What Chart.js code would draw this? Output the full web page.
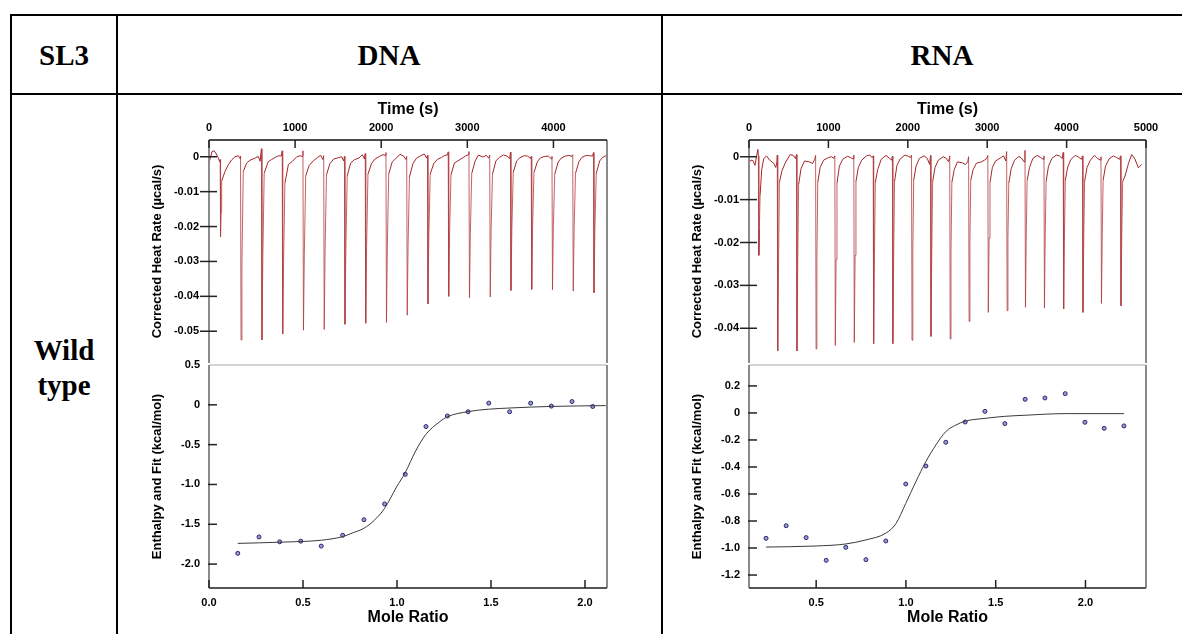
<!DOCTYPE html>
<html>
<head>
<meta charset="utf-8">
<script src="https://cdn.jsdelivr.net/npm/chart.js@4.4.0/dist/chart.umd.min.js"></script>
<style>
  body { margin: 0; background: #fff; width: 1182px; height: 634px; overflow: hidden; position: relative; }
  .rule { position: absolute; background: #000; }
  .cell { position: absolute; font-family: 'Liberation Serif', 'Times New Roman', serif; font-weight: bold; font-size: 29px; line-height: 35px; text-align: center; color: #000; }
  canvas { position: absolute; }
</style>
</head>
<body>
<div class="rule" style="left:10px;top:14px;width:1172px;height:2px"></div>
<div class="rule" style="left:10px;top:93px;width:1172px;height:2px"></div>
<div class="rule" style="left:10px;top:14px;width:2px;height:620px"></div>
<div class="rule" style="left:116px;top:14px;width:2px;height:620px"></div>
<div class="rule" style="left:661px;top:14px;width:2px;height:620px"></div>
<div class="cell" style="left:10px;width:108px;top:38px">SL3</div>
<div class="cell" style="left:289px;width:200px;top:38px">DNA</div>
<div class="cell" style="left:842px;width:200px;top:38px">RNA</div>
<div class="cell" style="left:10px;width:108px;top:333px">Wild<br>type</div>

<canvas id="dnaHeat" width="470" height="275" style="left:150px;top:98px"></canvas>
<canvas id="dnaIso" width="470" height="279" style="left:150px;top:355px"></canvas>
<canvas id="rnaHeat" width="470" height="275" style="left:690px;top:98px"></canvas>
<canvas id="rnaIso" width="470" height="279" style="left:690px;top:355px"></canvas>

<script>
// tick values
const dnaTimeTicks = [0, 1000, 2000, 3000, 4000];
const rnaTimeTicks = [0, 1000, 2000, 3000, 4000, 5000];
const dnaHeatTicks = [0, -0.01, -0.02, -0.03, -0.04, -0.05];
const rnaHeatTicks = [0, -0.01, -0.02, -0.03, -0.04];
const dnaRatioTicks = [0, 0.5, 1.0, 1.5, 2.0];
const rnaRatioTicks = [0.5, 1.0, 1.5, 2.0];
const dnaEnthTicks = [0.5, 0, -0.5, -1.0, -1.5, -2.0];
const rnaEnthTicks = [0.2, 0, -0.2, -0.4, -0.6, -0.8, -1.0, -1.2];

// raw thermogram, DNA: [time s, µcal/s]
const dnaTrace = [
  [0,-0.0017],[15,-0.0005],[35,0.0015],[60,0.0017],[85,0.0008],[110,-0.0004],[124,-0.0015],
  [130,-0.0008],[134,-0.023],[140,-0.016],[147,-0.007],[186,-0.0042],[224,-0.0023],[263,-0.0009],[302,0.0],[341,0.0003],[362,-0.0006],
  [366,0.0002],[372,-0.0525],[382,-0.031],[398,-0.0042],[438,-0.0018],[476,-0.001],[534,-0.0004],[573,0.0001],[593,-0.0013],
  [609,0.0023],[615,-0.0525],[625,-0.029],[641,-0.0047],[688,-0.0014],[727,-0.0008],[773,-0.0001],[811,0.0003],[840,0.0002],
  [850,0.0017],[856,-0.0508],[866,-0.030],[882,-0.0075],[922,-0.0022],[969,-0.0013],[1020,0.0],[1058,0.0003],[1082,0.0001],
  [1091,0.0017],[1097,-0.0497],[1107,-0.028],[1123,-0.0055],[1163,-0.0025],[1210,-0.0012],[1260,-0.0002],[1298,0.0004],[1322,-0.0008],
  [1332,0.0003],[1338,-0.0495],[1348,-0.027],[1364,-0.0052],[1404,-0.002],[1450,-0.0006],[1500,-0.0003],[1540,0.0],[1565,-0.0012],
  [1573,0.0001],[1579,-0.048],[1589,-0.027],[1605,-0.0055],[1645,-0.0018],[1690,-0.0008],[1740,-0.0004],[1780,0.0006],[1805,-0.0006],
  [1814,0.0009],[1820,-0.0477],[1830,-0.026],[1846,-0.005],[1886,-0.002],[1930,-0.0006],[1980,0.0001],[2020,0.0006],[2045,0.0004],
  [2055,0.0012],[2061,-0.0475],[2071,-0.026],[2087,-0.005],[2127,-0.0015],[2170,-0.0005],[2220,0.0007],[2260,0.0002],[2287,-0.0008],
  [2296,0.0001],[2302,-0.0454],[2312,-0.025],[2328,-0.0058],[2368,-0.002],[2410,-0.0004],[2460,0.0003],[2500,0.0008],[2528,-0.0004],
  [2537,0.0004],[2543,-0.0422],[2553,-0.023],[2569,-0.005],[2609,-0.002],[2650,-0.0008],[2700,-0.0002],[2740,0.0004],[2770,0.0005],
  [2778,0.0014],[2784,-0.040],[2794,-0.022],[2810,-0.0052],[2850,-0.0018],[2890,-0.0012],[2940,-0.0004],[2980,0.0002],[3010,0.0006],
  [3019,0.0015],[3025,-0.0404],[3035,-0.022],[3051,-0.0048],[3091,-0.0012],[3130,0.0005],[3180,-0.0001],[3220,0.0004],[3250,-0.0004],
  [3260,0.0005],[3266,-0.0402],[3276,-0.021],[3292,-0.005],[3332,-0.0012],[3370,-0.0002],[3420,0.0005],[3460,0.0002],[3492,-0.0006],
  [3501,0.0013],[3507,-0.0383],[3517,-0.021],[3533,-0.0045],[3573,-0.0012],[3610,-0.0003],[3660,0.0003],[3700,0.0002],[3733,-0.0005],
  [3742,0.0001],[3748,-0.038],[3758,-0.020],[3774,-0.0045],[3814,-0.0014],[3850,-0.0003],[3900,0.0001],[3940,0.0002],[3975,-0.0006],
  [3983,0.0001],[3989,-0.0381],[3999,-0.020],[4015,-0.005],[4055,-0.0015],[4090,-0.0004],[4140,0.0002],[4180,0.0004],[4215,0.0001],
  [4224,0.0006],[4230,-0.0385],[4240,-0.021],[4256,-0.0048],[4296,-0.0014],[4330,-0.0002],[4380,0.0004],[4420,0.0003],[4455,0.0002],
  [4465,0.0012],[4471,-0.039],[4481,-0.021],[4497,-0.0048],[4537,-0.0012],[4570,-0.0002],[4600,0.0002],[4622,0.0003]
];

// raw thermogram, RNA: [time s, µcal/s]
const rnaTrace = [
  [0,-0.0014],[25,-0.0008],[50,-0.0009],[75,-0.002],[100,0.0006],[112,0.0017],[118,0.0002],
  [124,-0.023],[130,-0.017],[140,-0.009],[160,-0.003],[185,-0.0005],[220,0.0002],[260,-0.0008],[310,-0.0015],[337,-0.0025],[352,-0.0012],
  [356,0.0004],[362,-0.0453],[372,-0.025],[383,-0.006],[413,-0.0034],[455,-0.0015],[518,0.0005],[558,0.0003],[585,-0.0004],
  [598,0.0005],[604,-0.0453],[614,-0.024],[625,-0.0065],[655,-0.0028],[700,-0.001],[760,-0.0012],[800,-0.0016],[828,-0.0006],
  [839,0.0003],[845,-0.0448],[855,-0.024],[866,-0.006],[896,-0.0025],[940,-0.0008],[1000,-0.0002],[1040,0.0],[1070,-0.0004],
  [1081,0.0002],[1087,-0.044],[1097,-0.024],[1108,-0.0062],[1138,-0.0022],[1180,-0.0006],[1240,0.0001],[1280,-0.0002],[1310,-0.0005],
  [1320,0.0004],[1326,-0.0433],[1336,-0.023],[1347,-0.0058],[1377,-0.0025],[1420,-0.0008],[1480,0.0002],[1520,0.0004],[1550,-0.0002],
  [1564,0.0002],[1570,-0.0436],[1580,-0.023],[1591,-0.006],[1621,-0.003],[1665,-0.0006],[1725,0.0003],[1765,-0.0003],[1795,-0.0008],
  [1806,0.0001],[1812,-0.0436],[1822,-0.023],[1833,-0.0058],[1863,-0.002],[1905,-0.0005],[1965,0.0004],[2005,0.0001],[2035,-0.0002],
  [2047,0.0004],[2053,-0.0428],[2063,-0.022],[2074,-0.0055],[2104,-0.0022],[2145,-0.0004],[2205,0.0002],[2245,-0.0004],[2275,-0.0018],
  [2286,0.0003],[2292,-0.0419],[2302,-0.022],[2313,-0.0058],[2343,-0.0025],[2385,-0.0008],[2445,0.0],[2485,-0.0004],[2515,-0.0012],
  [2528,0.0002],[2534,-0.0425],[2544,-0.022],[2555,-0.006],[2585,-0.003],[2625,-0.0012],[2685,-0.0014],[2725,-0.0018],[2755,-0.0012],
  [2766,0.0],[2772,-0.0384],[2782,-0.020],[2793,-0.0055],[2823,-0.003],[2865,-0.0015],[2925,-0.0012],[2965,-0.0008],[2995,-0.0004],
  [3008,0.0003],[3014,-0.0363],[3024,-0.019],[3035,-0.006],[3065,-0.0025],[3105,-0.001],[3165,-0.0003],[3205,0.0002],[3235,-0.001],
  [3245,0.0012],[3251,-0.0359],[3261,-0.019],[3272,-0.0062],[3302,-0.0028],[3345,-0.0008],[3400,0.0001],[3440,-0.0005],[3465,-0.0012],
  [3476,0.0015],[3482,-0.0351],[3492,-0.018],[3503,-0.0055],[3533,-0.0025],[3575,-0.0004],[3630,0.0003],[3675,-0.0002],[3705,-0.0006],
  [3715,0.0002],[3721,-0.0353],[3731,-0.018],[3742,-0.0058],[3772,-0.0022],[3815,-0.0004],[3870,0.0004],[3910,0.0002],[3945,-0.0004],
  [3957,0.001],[3963,-0.0355],[3973,-0.018],[3984,-0.0055],[4014,-0.0024],[4055,-0.0006],[4110,0.0003],[4150,-0.0001],[4188,-0.0006],
  [4200,0.0002],[4206,-0.0363],[4216,-0.019],[4227,-0.0058],[4257,-0.0025],[4300,-0.0008],[4350,0.0003],[4390,-0.0004],[4425,-0.0008],
  [4433,0.0],[4439,-0.0342],[4449,-0.018],[4460,-0.0055],[4490,-0.0022],[4535,-0.0005],[4590,0.0002],[4630,-0.0002],[4668,-0.0006],
  [4679,0.0002],[4685,-0.0348],[4695,-0.018],[4706,-0.0058],[4736,-0.0045],[4780,-0.0015],[4820,0.0005],[4860,-0.0005],[4904,-0.0026],[4946,-0.0018]
];

// integrated heats, DNA
const dnaRatio = [0.153, 0.266, 0.376, 0.488, 0.597, 0.711, 0.824, 0.934, 1.044, 1.154, 1.268, 1.378, 1.488, 1.599, 1.711, 1.821, 1.931, 2.041];
const dnaEnthalpy = [-1.865, -1.659, -1.72, -1.712, -1.774, -1.638, -1.443, -1.245, -0.873, -0.273, -0.14, -0.087, 0.021, -0.087, 0.021, -0.016, 0.041, -0.021];
const dnaFitRatio = [0.153, 0.376, 0.597, 0.711, 0.762, 0.824, 0.879, 0.934, 0.998, 1.044, 1.099, 1.154, 1.223, 1.268, 1.378, 1.488, 1.599, 1.821, 2.11];
const dnaFit = [-1.74, -1.725, -1.70, -1.655, -1.61, -1.55, -1.45, -1.30, -1.03, -0.85, -0.58, -0.37, -0.22, -0.15, -0.085, -0.055, -0.04, -0.02, -0.01];

// integrated heats, RNA
const rnaRatio = [0.221, 0.333, 0.444, 0.556, 0.665, 0.777, 0.888, 0.999, 1.111, 1.222, 1.330, 1.440, 1.551, 1.664, 1.774, 1.887, 1.997, 2.104, 2.214];
const rnaEnthalpy = [-0.928, -0.835, -0.923, -1.091, -0.995, -1.086, -0.948, -0.526, -0.393, -0.217, -0.067, 0.012, -0.079, 0.101, 0.111, 0.143, -0.069, -0.114, -0.096];
const rnaFitRatio = [0.221, 0.5, 0.665, 0.777, 0.888, 0.944, 0.999, 1.055, 1.111, 1.167, 1.222, 1.278, 1.33, 1.44, 1.551, 1.664, 1.887, 2.214];
const rnaFit = [-0.993, -0.985, -0.97, -0.94, -0.89, -0.82, -0.67, -0.51, -0.36, -0.237, -0.138, -0.09, -0.061, -0.04, -0.025, -0.017, -0.005, -0.005];

Chart.defaults.font.family = "'Liberation Sans', Arial, sans-serif";
Chart.defaults.font.weight = 'bold';
Chart.defaults.color = '#000';

// box lines plus inward ticks, like the Origin style plot
const framePlugin = {
  id: 'frame',
  afterDatasetsDraw(chart, args, opts) {
    const { ctx, chartArea: a, scales } = chart;
    const line = (x1, y1, x2, y2, color, w) => {
      ctx.beginPath();
      ctx.strokeStyle = color;
      ctx.lineWidth = w;
      ctx.moveTo(x1, y1);
      ctx.lineTo(x2, y2);
      ctx.stroke();
    };
    ctx.save();
    line(a.left, a.top, a.left, a.bottom, '#8a8a8a', 2);
    line(a.right, a.top, a.right, a.bottom, '#8a8a8a', 2);
    line(a.left, a.top, a.right, a.top, opts.topColor, opts.topWidth);
    if (opts.bottomColor) line(a.left, a.bottom, a.right, a.bottom, opts.bottomColor, 2);
    scales.x.ticks.forEach((t) => {
      const px = scales.x.getPixelForValue(t.value);
      if (opts.xSide === 'top') line(px, a.top, px, a.top + 8, '#222', 1.5);
      else line(px, a.bottom - 8, px, a.bottom, '#222', 1.5);
    });
    scales.y.ticks.forEach((t) => {
      const py = scales.y.getPixelForValue(t.value);
      if (py > a.top + 2 || opts.xSide === 'top') line(a.left - opts.yOut, py, a.left + 8, py, '#222', 1.5);
    });
    ctx.restore();
  }
};

// steep parts of the trace look lighter in the original
const spikeColor = (c) => (Math.abs(c.p1.parsed.y - c.p0.parsed.y) > 0.006 ? 'rgba(178,60,62,0.8)' : undefined);

const heatChart = (id, trace, xMax, xTicks, yMin, yMax, yTicks, padRight) => new Chart(document.getElementById(id), {
  type: 'line',
  data: {
    datasets: [{
      data: trace.map((p) => ({ x: p[0], y: p[1] })),
      borderColor: '#a3262a',
      borderWidth: 1,
      pointRadius: 0,
      tension: 0,
      segment: { borderColor: spikeColor },
    }],
  },
  options: {
    responsive: false,
    animation: false,
    devicePixelRatio: 1,
    layout: { padding: { top: 0, right: padRight, bottom: 10, left: 0 } },
    plugins: {
      legend: { display: false },
      tooltip: { enabled: false },
      frame: { topColor: '#111', topWidth: 1.5, bottomColor: null, xSide: 'top', yOut: 9 },
    },
    scales: {
      x: {
        type: 'linear', position: 'top', min: 0, max: xMax,
        grid: { display: false, drawTicks: true, tickLength: 5 }, border: { display: false },
        afterBuildTicks: (s) => { s.ticks = xTicks.map((v) => ({ value: v })); },
        afterFit: (s) => { s.height = 42; },
        ticks: { padding: 0, autoSkip: false, maxRotation: 0, font: { size: 11 }, callback: (v) => String(v) },
        title: { display: true, text: 'Time (s)', font: { size: 16 }, padding: { top: 2, bottom: 0 } },
      },
      y: {
        min: yMin, max: yMax,
        grid: { display: false, drawTicks: true, tickLength: 10 }, border: { display: false },
        afterBuildTicks: (s) => { s.ticks = yTicks.map((v) => ({ value: v })); },
        afterFit: (s) => { s.width = 59; },
        ticks: { padding: 0, autoSkip: false, font: { size: 11 }, callback: (v) => (v === 0 ? '0' : v.toFixed(2)) },
        title: { display: true, text: 'Corrected Heat Rate (µcal/s)', font: { size: 13 }, padding: { top: 0, bottom: 0 } },
      },
    },
  },
  plugins: [framePlugin],
});

const isoChart = (id, ratio, enth, fitX, fitY, xMin, xMax, xTicks, yMin, yMax, yTicks, padRight) => new Chart(document.getElementById(id), {
  type: 'scatter',
  data: {
    datasets: [
      {
        data: fitX.map((x, i) => ({ x: x, y: fitY[i] })),
        showLine: true,
        borderColor: '#3a3a3a',
        borderWidth: 1,
        pointRadius: 0,
        cubicInterpolationMode: 'monotone',
      },
      {
        data: ratio.map((x, i) => ({ x: x, y: enth[i] })),
        pointRadius: 2,
        backgroundColor: '#9a9ad2',
        borderColor: '#262670',
        borderWidth: 1,
      },
    ],
  },
  options: {
    responsive: false,
    animation: false,
    devicePixelRatio: 1,
    layout: { padding: { top: 10, right: padRight, bottom: 0, left: 0 } },
    plugins: {
      legend: { display: false },
      tooltip: { enabled: false },
      frame: { topColor: '#a8a8a8', topWidth: 1, bottomColor: '#555', xSide: 'bottom', yOut: 1 },
    },
    scales: {
      x: {
        type: 'linear', position: 'bottom', min: xMin, max: xMax,
        grid: { display: false, drawTicks: true, tickLength: 8 }, border: { display: false },
        afterBuildTicks: (s) => { s.ticks = xTicks.map((v) => ({ value: v })); },
        afterFit: (s) => { s.height = 46; },
        ticks: { padding: 0, autoSkip: false, maxRotation: 0, font: { size: 11 }, callback: (v) => v.toFixed(1) },
        title: { display: true, text: 'Mole Ratio', font: { size: 16 }, padding: { top: 0, bottom: 7 } },
      },
      y: {
        min: yMin, max: yMax,
        grid: { display: false, drawTicks: true, tickLength: 9 }, border: { display: false },
        afterBuildTicks: (s) => { s.ticks = yTicks.map((v) => ({ value: v })); },
        afterFit: (s) => { s.width = 59; },
        ticks: { padding: 0, autoSkip: false, font: { size: 11 }, callback: (v) => (v === 0 ? '0' : v.toFixed(1)) },
        title: { display: true, text: 'Enthalpy and Fit (kcal/mol)', font: { size: 13 }, padding: { top: 0, bottom: 0 } },
      },
    },
  },
  plugins: [framePlugin],
});

heatChart('dnaHeat', dnaTrace, 4622, dnaTimeTicks, -0.0591, 0.0048, dnaHeatTicks, 13);
heatChart('rnaHeat', rnaTrace, 5000, rnaTimeTicks, -0.0481, 0.0039, rnaHeatTicks, 14);
isoChart('dnaIso', dnaRatio, dnaEnthalpy, dnaFitRatio, dnaFit, 0, 2.117, dnaRatioTicks, -2.3, 0.5, dnaEnthTicks, 13);
isoChart('rnaIso', rnaRatio, rnaEnthalpy, rnaFitRatio, rnaFit, 0.126, 2.337, rnaRatioTicks, -1.296, 0.355, rnaEnthTicks, 14);
</script>
</body>
</html>
